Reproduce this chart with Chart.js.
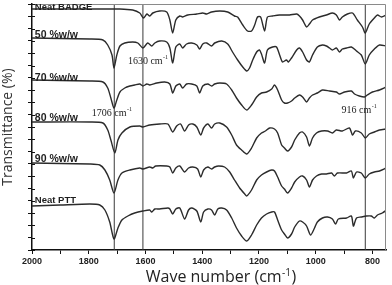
<!DOCTYPE html>
<html>
<head>
<meta charset="utf-8">
<script src="https://cdn.jsdelivr.net/npm/chart.js@4.4.1/dist/chart.umd.min.js"></script>
<style>
    html, body { margin: 0; padding: 0; background: #fff; }
    #wrap { width: 392px; height: 285px; }
</style>
</head>
<body>
<div id="wrap"><canvas id="ftir-chart"></canvas></div>
<script>
// FTIR spectra, stacked (transmittance offset per sample, arbitrary units)
const seriesNames = ['Neat BADGE', '50 %w/w', '70 %w/w', '80 %w/w', '90 %w/w', 'Neat PTT'];

const badgeWn = [2000, 1796, 1690, 1645, 1620, 1607, 1595, 1585, 1574, 1550, 1525, 1514, 1504, 1493, 1479, 1469, 1451, 1419, 1398, 1384, 1367, 1338, 1310, 1286, 1275, 1257, 1240, 1226, 1215, 1205, 1194, 1180, 1170, 1152, 1127, 1092, 1067, 1057, 1046, 1032, 1022, 1011, 987, 962, 941, 927, 916, 906, 888, 870, 853, 835, 825, 811, 793, 782, 768, 751];
const badgeT = [241, 241, 241, 240, 237, 232, 236, 234, 237, 239, 238, 230, 217, 230, 234, 233, 235, 236, 237, 236, 238, 239, 238, 234, 233, 225, 219, 219, 225, 233, 233, 219, 233, 234, 235, 235, 236, 234, 230, 223, 226, 230, 233, 235, 237, 235, 230, 233, 236, 237, 230, 223, 217, 226, 232, 235, 233, 235];

const w50Wn = [2000, 1796, 1750, 1733, 1718, 1711, 1701, 1690, 1673, 1645, 1627, 1609, 1592, 1578, 1567, 1550, 1525, 1514, 1504, 1493, 1479, 1469, 1455, 1437, 1419, 1409, 1398, 1384, 1367, 1356, 1331, 1310, 1293, 1275, 1257, 1243, 1233, 1222, 1208, 1198, 1191, 1180, 1170, 1152, 1138, 1127, 1117, 1103, 1096, 1085, 1067, 1057, 1046, 1032, 1022, 1011, 994, 976, 962, 951, 941, 927, 916, 906, 891, 874, 856, 839, 825, 811, 793, 775, 751];
const w50T = [212, 211, 210, 205, 195, 182, 195, 204, 207, 208, 207, 202, 207, 204, 207, 209, 208, 202, 187, 203, 206, 202, 206, 207, 205, 201, 206, 207, 204, 207, 209, 206, 198, 190, 183, 179, 182, 190, 198, 200, 196, 187, 200, 203, 203, 195, 188, 190, 188, 192, 200, 202, 198, 190, 188, 195, 203, 205, 204, 202, 200, 202, 198, 201, 202, 203, 199, 195, 186, 195, 201, 205, 204];

const w70Wn = [2000, 1796, 1750, 1733, 1722, 1711, 1701, 1690, 1673, 1655, 1638, 1620, 1609, 1595, 1585, 1560, 1532, 1514, 1504, 1493, 1479, 1469, 1455, 1437, 1419, 1409, 1398, 1380, 1367, 1356, 1338, 1314, 1296, 1279, 1261, 1243, 1226, 1208, 1191, 1173, 1155, 1145, 1134, 1120, 1110, 1099, 1085, 1074, 1057, 1046, 1032, 1022, 1011, 994, 976, 951, 927, 916, 898, 874, 863, 846, 828, 818, 800, 775, 751];
const w70T = [170, 169, 168, 162, 152, 142, 150, 158, 162, 164, 165, 166, 164, 166, 165, 167, 168, 166, 157, 164, 166, 162, 166, 166, 164, 157, 164, 166, 164, 166, 167, 166, 160, 152, 145, 140, 145, 153, 157, 158, 161, 165, 160, 150, 147, 147, 149, 152, 155, 153, 148, 152, 155, 157, 160, 159, 158, 156, 158, 159, 156, 154, 153, 155, 158, 160, 163];

const w80Wn = [2000, 1796, 1750, 1733, 1722, 1708, 1697, 1683, 1655, 1620, 1609, 1585, 1550, 1521, 1504, 1490, 1476, 1462, 1448, 1433, 1419, 1405, 1395, 1380, 1367, 1356, 1338, 1314, 1296, 1279, 1261, 1243, 1226, 1208, 1191, 1177, 1162, 1145, 1134, 1120, 1110, 1099, 1085, 1074, 1057, 1046, 1032, 1022, 1011, 997, 979, 958, 941, 927, 906, 881, 870, 860, 839, 825, 811, 793, 775, 751];
const w80T = [128, 128, 127, 120, 110, 97, 110, 117, 123, 124, 123, 125, 126, 126, 118, 124, 126, 119, 125, 126, 123, 115, 122, 126, 122, 126, 127, 123, 115, 105, 100, 96, 102, 112, 117, 119, 122, 121, 117, 105, 102, 99, 103, 110, 117, 118, 113, 104, 112, 117, 119, 119, 117, 120, 119, 122, 115, 119, 117, 112, 116, 118, 120, 121];

const w90Wn = [2000, 1796, 1761, 1743, 1726, 1711, 1697, 1683, 1655, 1620, 1609, 1585, 1574, 1564, 1525, 1514, 1504, 1493, 1479, 1462, 1448, 1433, 1416, 1405, 1395, 1380, 1367, 1356, 1342, 1321, 1303, 1286, 1268, 1250, 1243, 1226, 1208, 1191, 1173, 1155, 1145, 1134, 1120, 1110, 1099, 1085, 1074, 1057, 1046, 1032, 1022, 1011, 997, 979, 962, 944, 934, 923, 891, 874, 867, 856, 839, 825, 811, 793, 775, 751];
const w90T = [87, 86, 85, 80, 70, 57, 70, 77, 80, 82, 81, 83, 82, 84, 84, 83, 77, 82, 84, 78, 82, 83, 81, 73, 80, 83, 81, 83, 84, 83, 78, 70, 62, 56, 54, 60, 70, 75, 78, 80, 79, 73, 64, 61, 57, 62, 68, 73, 74, 70, 63, 70, 74, 76, 76, 77, 74, 77, 77, 79, 72, 78, 77, 72, 76, 78, 79, 82];

const pttWn = [2000, 1901, 1796, 1761, 1743, 1726, 1711, 1697, 1683, 1662, 1638, 1609, 1585, 1578, 1567, 1550, 1521, 1514, 1504, 1493, 1479, 1462, 1448, 1437, 1419, 1405, 1395, 1380, 1367, 1356, 1345, 1331, 1314, 1296, 1279, 1261, 1243, 1226, 1208, 1191, 1173, 1155, 1145, 1134, 1120, 1110, 1099, 1085, 1074, 1057, 1046, 1032, 1018, 1004, 994, 976, 958, 941, 930, 920, 891, 874, 867, 856, 839, 821, 804, 793, 782, 765, 750];
const pttT = [44, 45, 46, 45, 40, 28, 11, 22, 30, 34, 37, 39, 40, 38, 41, 41, 42, 41, 36, 41, 42, 31, 40, 42, 39, 28, 38, 41, 40, 35, 41, 42, 40, 32, 22, 14, 9, 15, 25, 32, 36, 38, 38, 30, 20, 16, 12, 16, 23, 29, 28, 24, 15, 22, 28, 32, 33, 31, 26, 31, 32, 34, 24, 32, 33, 34, 34, 32, 35, 37, 40];

// reference band positions (cm-1) and their callouts
const markerWn = [1710, 1609, 825];
const callouts = [
    { text: '1630 cm', wn: 1662, t: 189 },
    { text: '1706 cm', wn: 1789, t: 137 },
    { text: '916 cm', wn: 909, t: 140 }
];
// sample labels sit just above each trace at the left edge
const labelT = [243, 215, 172, 132, 91, 50];

const xTicks = [2000, 1900, 1800, 1700, 1600, 1500, 1400, 1300, 1200, 1100, 1000, 900, 800];

const spectra = [
    [badgeWn, badgeT], [w50Wn, w50T], [w70Wn, w70T],
    [w80Wn, w80T], [w90Wn, w90T], [pttWn, pttT]
];

const ink = '#2b2b2b';

const datasets = spectra.map(([wn, t], i) => ({
    label: seriesNames[i],
    data: wn.map((w, k) => ({ x: w, y: t[k] })),
    borderColor: ink,
    borderWidth: 1.4,
    pointRadius: 0,
    tension: 0.25,
    fill: false
}));

markerWn.forEach(w => {
    datasets.push({
        label: 'marker',
        data: [{ x: w, y: 0 }, { x: w, y: 246 }],
        borderColor: '#3a3a3a',
        borderWidth: 1,
        pointRadius: 0,
        fill: false
    });
});

function drawSup(ctx, text, x, y, font, supFont) {
    ctx.font = font;
    ctx.fillText(text, x, y);
    const w = ctx.measureText(text).width;
    ctx.font = supFont;
    ctx.fillText('-1', x + w + 0.5, y - 4);
    return w + ctx.measureText('-1').width + 0.5;
}

const textPlugin = {
    id: 'ftirText',
    afterDraw(chart) {
        const { ctx, chartArea, scales } = chart;
        const xs = scales.x, ys = scales.y;
        ctx.save();

        // top / right frame
        ctx.strokeStyle = '#8a8a8a';
        ctx.lineWidth = 1;
        ctx.beginPath();
        ctx.moveTo(chartArea.left, chartArea.top + 0.5);
        ctx.lineTo(chartArea.right - 0.5, chartArea.top + 0.5);
        ctx.lineTo(chartArea.right - 0.5, chartArea.bottom);
        ctx.stroke();

        // y ticks also poke inside the frame
        ctx.strokeStyle = '#111';
        ctx.beginPath();
        ys.ticks.forEach(t => {
            const py = Math.round(ys.getPixelForValue(t.value)) + 0.5;
            ctx.moveTo(chartArea.left, py);
            ctx.lineTo(chartArea.left + 3, py);
        });
        ctx.stroke();

        // sample labels
        ctx.fillStyle = '#1e1e1e';
        ctx.textBaseline = 'middle';
        ctx.textAlign = 'left';
        seriesNames.forEach((name, i) => {
            ctx.font = name.startsWith('Neat') ? 'bold 9.5px "Liberation Sans", Arial' : 'bold 10.5px "Liberation Sans", Arial';
            ctx.fillText(name, xs.getPixelForValue(1990), ys.getPixelForValue(labelT[i]));
        });

        // band callouts
        ctx.fillStyle = '#222';
        ctx.textBaseline = 'middle';
        callouts.forEach(c => {
            drawSup(ctx, c.text, xs.getPixelForValue(c.wn), ys.getPixelForValue(c.t),
                '10px "Liberation Serif", "Times New Roman", serif',
                '6px "Liberation Serif", "Times New Roman", serif');
        });

        // x axis title with superscript
        ctx.fillStyle = '#222';
        ctx.textBaseline = 'alphabetic';
        const mainFont = '16px "Open Sans", sans-serif';
        const supFont = '10px "Open Sans", sans-serif';
        ctx.font = mainFont;
        const a = 'Wave number (cm';
        const wa = ctx.measureText(a).width;
        const wc = ctx.measureText(')').width;
        ctx.font = supFont;
        const ws = ctx.measureText('-1').width;
        const total = wa + ws + wc + 1;
        const cx = (chartArea.left + chartArea.right) / 2 + 12;
        let x0 = cx - total / 2;
        const yb = 282;
        ctx.font = mainFont;
        ctx.fillText(a, x0, yb);
        ctx.font = supFont;
        ctx.fillText('-1', x0 + wa + 0.5, yb - 6);
        ctx.font = mainFont;
        ctx.fillText(')', x0 + wa + ws + 1, yb);

        ctx.restore();
    }
};

new Chart(document.getElementById('ftir-chart').getContext('2d'), {
    type: 'line',
    data: { datasets: datasets },
    options: {
        responsive: true,
        maintainAspectRatio: false,
        animation: false,
        layout: { padding: { top: 4, right: 6, left: 0, bottom: 0 } },
        plugins: {
            legend: { display: false },
            tooltip: { enabled: false }
        },
        scales: {
            x: {
                type: 'linear',
                reverse: true,
                min: 752,
                max: 2000,
                afterBuildTicks: scale => { scale.ticks = xTicks.map(v => ({ value: v })); },
                afterFit: scale => { scale.height = 35; },
                ticks: {
                    autoSkip: false,
                    maxRotation: 0,
                    padding: 2,
                    color: '#222',
                    font: { family: '"Liberation Sans", Arial', size: 9, weight: 'bold' },
                    callback: v => (v % 200 === 0 ? String(v) : '')
                },
                grid: {
                    drawOnChartArea: false,
                    tickLength: 4,
                    color: '#111'
                },
                border: { color: '#111', width: 1.5 }
            },
            y: {
                type: 'linear',
                min: 0,
                max: 246,
                afterBuildTicks: scale => {
                    const t = [];
                    for (let i = 0; i <= 20; i++) t.push({ value: i * 12.3 });
                    scale.ticks = t;
                },
                afterFit: scale => { scale.width = 32; },
                ticks: { display: false },
                grid: {
                    drawOnChartArea: false,
                    tickLength: 4,
                    color: '#111'
                },
                border: { color: '#111', width: 1.5 },
                title: {
                    display: true,
                    text: 'Transmittance (%)',
                    color: '#333',
                    font: { family: '"Open Sans", sans-serif', size: 14 },
                    padding: { top: 0, bottom: 2 }
                }
            }
        }
    },
    plugins: [textPlugin]
});
</script>
</body>
</html>
